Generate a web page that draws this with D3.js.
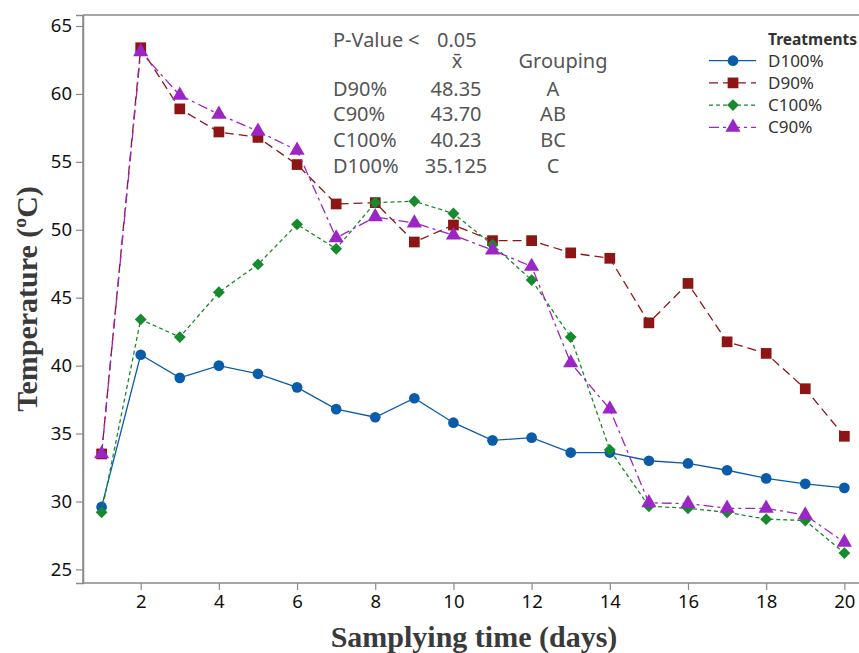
<!DOCTYPE html>
<html><head><meta charset="utf-8">
<script src="https://cdn.jsdelivr.net/npm/d3@7"></script>
<style>body{margin:0;background:#fff}svg{display:block}</style>
</head><body>
<svg id="c" width="859" height="653"></svg>
<script>
const days = d3.range(1, 21);
const xTicks = [2,4,6,8,10,12,14,16,18,20];
const yTicks = [25,30,35,40,45,50,55,60,65];
const seriesNames = ["D100%","D90%","C100%","C90%"];
const d100 = [29.6,40.8,39.1,40.0,39.4,38.4,36.8,36.2,37.6,35.8,34.5,34.7,33.6,33.6,33.0,32.8,32.3,31.7,31.3,31.0];
const d90  = [33.5,63.4,58.9,57.2,56.8,54.8,51.9,52.0,49.1,50.35,49.2,49.2,48.3,47.9,43.15,46.05,41.75,40.9,38.3,34.8];
const c100 = [29.2,43.4,42.1,45.4,47.45,50.4,48.6,52.0,52.1,51.2,48.9,46.3,42.1,33.8,29.65,29.5,29.2,28.7,28.6,26.2];
const c90  = [33.5,63.1,59.9,58.5,57.25,55.85,49.4,50.95,50.5,49.6,48.5,47.3,40.2,36.8,29.9,29.85,29.5,29.5,29.0,27.0];
const statTitle = ["P-Value", "<", "0.05"];
const statRows = ["D90%","C90%","C100%","D100%"];
const statMeans = ["48.35","43.70","40.23","35.125"];
const statGroups = ["A","AB","BC","C"];

const styles = [
  {color:"#0b5bab", dash:null, sym:d3.symbolCircle, size:90, rot:0},
  {color:"#8e1515", dash:"9,5", sym:d3.symbolSquare, size:115, rot:0},
  {color:"#178a2e", dash:"4,3", sym:d3.symbolSquare, size:70, rot:45},
  {color:"#9c25c6", dash:"10,4,3,4", sym:d3.symbolTriangle, size:100, rot:0}
];
const allData = [d100, d90, c100, c90];

const svg = d3.select("#c");
const L = 83, T = 15, B = 583, R = 860;
const x = d3.scaleLinear().domain([0.524, 20.4]).range([L, R]);
const y = d3.scaleLinear().domain([24.0, 65.81]).range([B, T]);

// frame
svg.append("line").attr("x1",L).attr("x2",859).attr("y1",T).attr("y2",T).attr("stroke","#8a8a8a").attr("stroke-width",1.5);
svg.append("line").attr("x1",L).attr("x2",L).attr("y1",T).attr("y2",B).attr("stroke","#8a8a8a").attr("stroke-width",1.5);

const tickFont = "'Noto Sans', 'Open Sans', sans-serif";
const xAxis = svg.append("g").attr("transform",`translate(0,${B})`)
  .call(d3.axisBottom(x).tickValues(xTicks).tickSize(7).tickPadding(5).tickFormat(d3.format("d")));
const yAxis = svg.append("g").attr("transform",`translate(${L},0)`)
  .call(d3.axisLeft(y).tickValues(yTicks).tickSize(7).tickPadding(4).tickFormat(d3.format("d")));
[xAxis,yAxis].forEach(a=>{
  a.select(".domain").attr("stroke","#8a8a8a").attr("stroke-width",1.5);
  a.selectAll(".tick line").attr("stroke","#8a8a8a").attr("stroke-width",1.2);
  a.selectAll("text").attr("fill","#111").style("font-family",tickFont).style("font-size","18.5px");
});
xAxis.select(".domain").attr("d",`M${L},0H859`);

// axis titles
const serif = "'Liberation Serif','Times New Roman',serif";
svg.append("text").attr("x",474).attr("y",647).attr("text-anchor","middle")
  .style("font-family",serif).style("font-weight","bold")
  .style("font-size","30px").attr("fill","#3a3a3a").text("Samplying time (days)");
svg.append("text").attr("transform","translate(37,299) rotate(-90)").attr("text-anchor","middle")
  .style("font-family",serif).style("font-weight","bold")
  .style("font-size","30px").attr("fill","#3a3a3a").text("Temperature (ºC)");

// series
const line = d3.line().x((d,i)=>x(days[i])).y(d=>y(d));
allData.forEach((data,k)=>{
  const s = styles[k];
  svg.append("path").datum(data).attr("d",line).attr("fill","none")
    .attr("stroke",s.color).attr("stroke-width",1.3).attr("stroke-dasharray",s.dash);
  svg.append("g").selectAll("path").data(data).join("path")
    .attr("transform",(d,i)=>`translate(${x(days[i])},${y(d)}) rotate(${s.rot})`)
    .attr("d",d3.symbol().type(s.sym).size(s.size)).attr("fill",s.color);
});

// stats annotation
const annFont = "'Noto Sans','Open Sans',sans-serif";
const ann = svg.append("g").style("font-family",annFont).style("font-size","20px").attr("fill","#555");
ann.append("text").attr("x",333).attr("y",47).text(statTitle[0]);
ann.append("text").attr("x",408).attr("y",47).text(statTitle[1]);
ann.append("text").attr("x",437).attr("y",47).text(statTitle[2]);
ann.append("text").attr("x",457).attr("y",68).attr("text-anchor","middle").text("x\u0304");
ann.append("text").attr("x",563).attr("y",68).attr("text-anchor","middle").text("Grouping");
statRows.forEach((r,i)=>{
  const yy = 95.5 + i*25.8;
  ann.append("text").attr("x",333).attr("y",yy).text(r);
  ann.append("text").attr("x",456).attr("y",yy).attr("text-anchor","middle").text(statMeans[i]);
  ann.append("text").attr("x",553).attr("y",yy).attr("text-anchor","middle").text(statGroups[i]);
});

// legend
const lg = svg.append("g").style("font-family",annFont);
lg.append("text").attr("x",768).attr("y",45).style("font-size","15.5px").style("font-weight","bold").attr("fill","#333").text("Treatments");
seriesNames.forEach((n,i)=>{
  const s = styles[i];
  const yy = 60.7 + i*22.2;
  lg.append("line").attr("x1",709).attr("x2",756).attr("y1",yy).attr("y2",yy)
    .attr("stroke",s.color).attr("stroke-width",1.3).attr("stroke-dasharray",s.dash);
  lg.append("path").attr("transform",`translate(733,${yy}) rotate(${s.rot})`)
    .attr("d",d3.symbol().type(s.sym).size(s.size)).attr("fill",s.color);
  lg.append("text").attr("x",768).attr("y",yy+6).style("font-size","17px").attr("fill","#333").text(n);
});
</script>
</body></html>
